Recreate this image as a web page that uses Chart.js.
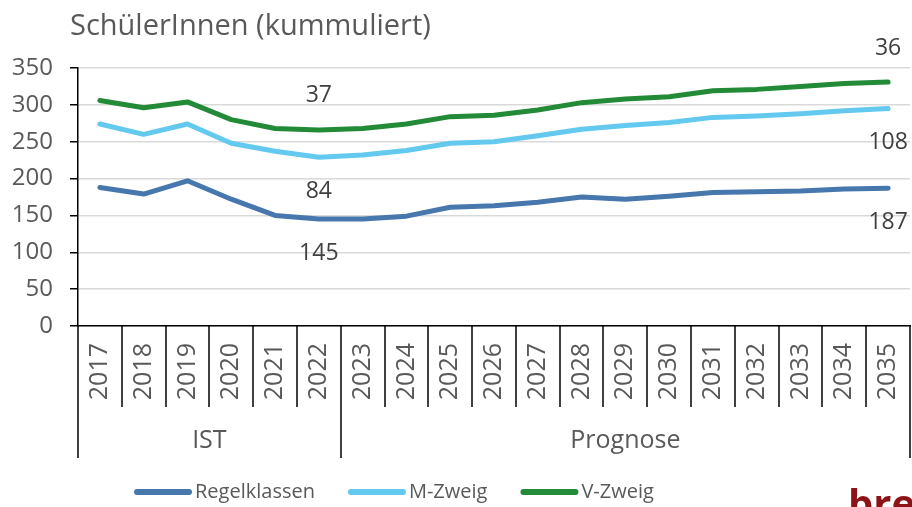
<!DOCTYPE html>
<html>
<head>
<meta charset="utf-8">
<script src="https://cdn.jsdelivr.net/npm/chart.js@4.4.1/dist/chart.umd.min.js"></script>
<style>
  html, body { margin: 0; padding: 0; background: #fff; overflow: hidden; }
  #wrap { width: 912px; height: 507px; position: relative; }
</style>
</head>
<body>
<div id="wrap"><canvas id="schuelerChart" width="912" height="507"></canvas></div>
<script>
// Jahre und Gruppen (IST / Prognose)
const jahre = ['2017','2018','2019','2020','2021','2022','2023','2024','2025','2026','2027','2028','2029','2030','2031','2032','2033','2034','2035'];
const gruppen = ['IST', 'Prognose'];
const gruppenLaenge = [6, 13];

// kumulierte Werte
const regelklassen = [188, 179, 197, 172, 150, 145, 145, 149, 161, 163, 168, 175, 172, 176, 181, 182, 183, 186, 187];
const mZweig = [274, 260, 274, 248, 237, 229, 232, 238, 248, 250, 258, 267, 272, 276, 283, 285, 288, 292, 295];
const vZweig = [306, 296, 304, 280, 268, 266, 268, 274, 284, 286, 293, 303, 308, 311, 319, 321, 325, 329, 331];

const serien = ['Regelklassen', 'M-Zweig', 'V-Zweig'];
const farben = ['#4677ad', '#63c9ee', '#238a37'];
const labelIndex = [5, 18]; // 2022 und 2035 beschriften

const schrift = '"Open Sans", "DejaVu Sans", sans-serif';
const grau = '#595959';

const extras = {
    id: 'extras',
    afterDraw(chart) {
        const ctx = chart.ctx;
        const area = chart.chartArea;
        const breite = (area.right - area.left) / jahre.length;
        ctx.save();

        // Titel
        ctx.fillStyle = grau;
        ctx.font = '29px ' + schrift;
        ctx.textAlign = 'left';
        ctx.textBaseline = 'alphabetic';
        ctx.fillText('SchülerInnen (kummuliert)', 70, 35);

        // Trennstriche unter der x-Achse
        const grenzen = [0];
        let summe = 0;
        gruppenLaenge.forEach(n => { summe += n; grenzen.push(summe); });
        ctx.strokeStyle = '#000';
        ctx.lineWidth = 1.5;
        for (let i = 0; i <= jahre.length; i++) {
            const px = Math.round(area.left + i * breite);
            const lang = grenzen.includes(i);
            ctx.beginPath();
            ctx.moveTo(px, area.bottom);
            ctx.lineTo(px, area.bottom + (lang ? 132 : 81));
            ctx.stroke();
        }

        // Gruppenbeschriftung
        ctx.font = '25px ' + schrift;
        ctx.fillStyle = grau;
        ctx.textAlign = 'center';
        ctx.textBaseline = 'middle';
        gruppen.forEach((g, k) => {
            const a = area.left + grenzen[k] * breite;
            const b = area.left + grenzen[k + 1] * breite;
            ctx.fillText(g, (a + b) / 2, area.bottom + 115);
        });

        // Datenbeschriftungen (Differenzen der kumulierten Werte)
        ctx.font = '23px ' + schrift;
        ctx.fillStyle = '#404040';
        labelIndex.forEach(i => {
            chart.data.datasets.forEach((ds, d) => {
                const pt = chart.getDatasetMeta(d).data[i];
                const unten = d === 0 ? 0 : chart.data.datasets[d - 1].data[i];
                const wert = Math.round(ds.data[i] - unten);
                const dy = d === 2 ? -34 : 34;
                ctx.fillText(String(wert), pt.x, pt.y + dy);
            });
        });

        // Legende
        ctx.font = '20px ' + schrift;
        ctx.textAlign = 'left';
        let lx = 137;
        const ly = 492;
        serien.forEach((s, k) => {
            ctx.strokeStyle = farben[k];
            ctx.lineWidth = 6;
            ctx.lineCap = 'round';
            ctx.beginPath();
            ctx.moveTo(lx, ly);
            ctx.lineTo(lx + 52, ly);
            ctx.stroke();
            ctx.fillStyle = grau;
            ctx.fillText(s, lx + 58, ly);
            lx += 58 + ctx.measureText(s).width + 36;
        });

        // Logo unten rechts (abgeschnitten)
        ctx.font = 'bold 40px ' + schrift;
        ctx.fillStyle = '#8c1417';
        ctx.textBaseline = 'alphabetic';
        ctx.fillText('bre', 848, 518);

        ctx.restore();
    }
};

document.addEventListener('DOMContentLoaded', function () {
    const ctx = document.getElementById('schuelerChart').getContext('2d');
    const werte = [regelklassen, mZweig, vZweig];
    new Chart(ctx, {
        type: 'line',
        data: {
            labels: jahre,
            datasets: serien.map((s, k) => ({
                label: s,
                data: werte[k],
                borderColor: farben[k],
                backgroundColor: farben[k],
                borderWidth: 5,
                borderCapStyle: 'round',
                borderJoinStyle: 'round',
                pointRadius: 0,
                tension: 0,
                fill: false
            }))
        },
        options: {
            responsive: false,
            animation: false,
            layout: { padding: { top: 68, right: 2, left: 0, bottom: 0 } },
            plugins: {
                legend: { display: false },
                tooltip: { enabled: false }
            },
            scales: {
                x: {
                    offset: true,
                    grid: { display: true, drawOnChartArea: false, drawTicks: false },
                    border: { color: '#000', width: 1.5 },
                    ticks: {
                        autoSkip: false,
                        minRotation: 90,
                        maxRotation: 90,
                        padding: 17,
                        color: grau,
                        font: { size: 25, family: schrift }
                    },
                    afterFit(s) {
                        s.height = 181;
                        s.paddingLeft = 0;
                        s.paddingRight = 0;
                    }
                },
                y: {
                    min: 0,
                    max: 350,
                    ticks: {
                        stepSize: 50,
                        padding: 17,
                        color: grau,
                        font: { size: 24, family: schrift }
                    },
                    grid: { color: '#d9d9d9', lineWidth: 1.5, tickLength: 8, tickColor: '#000' },
                    border: { color: '#000', width: 1.5 },
                    afterFit(s) { s.width = 78; }
                }
            }
        },
        plugins: [extras]
    });
});
</script>
</body>
</html>
